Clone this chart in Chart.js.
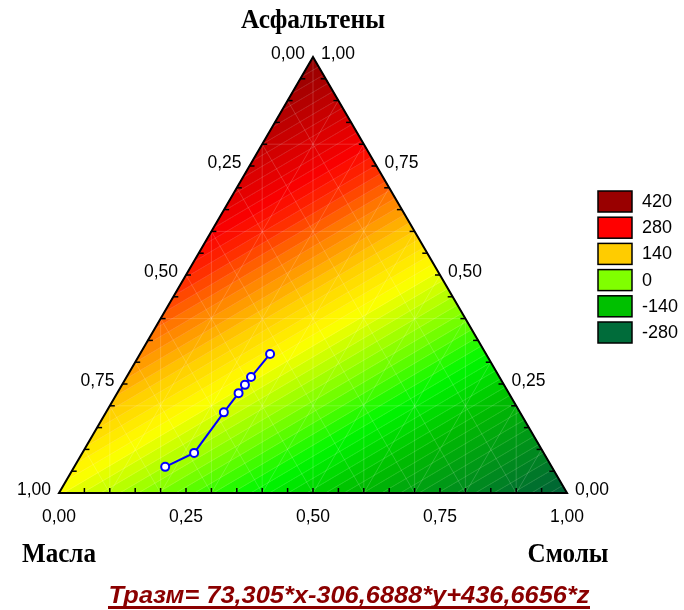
<!DOCTYPE html>
<html>
<head>
<meta charset="utf-8">
<script src="https://cdn.jsdelivr.net/npm/chart.js@4.4.0/dist/chart.umd.min.js"></script>
<style>
    html, body { margin: 0; background: #fff; }
    #contenedor { width: 684px; height: 610px; }
</style>
</head>
<body>
<div id="contenedor"><canvas id="grafico"></canvas></div>
<script>
// Доли компонентов в опытных точках (x - масла, y - смолы, z - асфальтены)
const masla = [0.761, 0.688, 0.583, 0.532, 0.510, 0.489, 0.425];
const smoly = [0.179, 0.220, 0.232, 0.239, 0.242, 0.245, 0.256];
const asfalteny = [0.060, 0.092, 0.185, 0.229, 0.248, 0.266, 0.319];

// Коэффициенты модели: Тразм = a*x + b*y + c*z
const koef = [73.305, -306.6888, 436.6656];
const formula = "Тразм= 73,305*x-306,6888*y+436,6656*z";

// Подписи
const nazvaniya = ["Масла", "Смолы", "Асфальтены"];
const tiki = [0, 0.25, 0.5, 0.75, 1];

// Легенда (уровни и их цвета)
const urovni = [420, 280, 140, 0, -140, -280];
const tsvetaUrovney = ["#990000", "#ff0000", "#ffcc00", "#80ff00", "#00c000", "#006c3a"];

// Шаг контуров
const shag = 14;
const baza = -280;

// Цветовая шкала для заливки
const shkala = [
    [-310, [0, 95, 55]],
    [-280, [0, 108, 48]],
    [-140, [0, 190, 0]],
    [-70, [0, 248, 0]],
    [0, [128, 255, 0]],
    [80, [255, 255, 0]],
    [140, [255, 204, 0]],
    [205, [255, 115, 0]],
    [250, [255, 40, 0]],
    [285, [250, 0, 0]],
    [350, [205, 0, 0]],
    [440, [140, 0, 0]],
];

function colorDe(t) {
    if (t <= shkala[0][0]) return "rgb(" + shkala[0][1].join(",") + ")";
    for (let i = 1; i < shkala.length; i++) {
        if (t <= shkala[i][0]) {
            const a = shkala[i - 1], b = shkala[i];
            const k = (t - a[0]) / (b[0] - a[0]);
            const c = a[1].map((v, j) => Math.round(v + k * (b[1][j] - v)));
            return "rgb(" + c.join(",") + ")";
        }
    }
    return "rgb(" + shkala[shkala.length - 1][1].join(",") + ")";
}

// Перевод тройных координат в плоские
function vPloskost(x, y, z) {
    return { x: y + z / 2, y: z };
}

function fmt(v) {
    return v.toFixed(2).replace(".", ",");
}

// Отсечение многоугольника по уровню
function otsech(poli, nivel, sverhu) {
    const res = [];
    for (let i = 0; i < poli.length; i++) {
        const a = poli[i], b = poli[(i + 1) % poli.length];
        const da = sverhu ? a.t - nivel : nivel - a.t;
        const db = sverhu ? b.t - nivel : nivel - b.t;
        if (da >= 0) res.push(a);
        if ((da >= 0) !== (db >= 0)) {
            const k = da / (da - db);
            res.push({ X: a.X + k * (b.X - a.X), Y: a.Y + k * (b.Y - a.Y), t: a.t + k * (b.t - a.t) });
        }
    }
    return res;
}

const puntos = masla.map((m, i) => vPloskost(m, smoly[i], asfalteny[i]));

const pluginTreugolnik = {
    id: "treugolnik",
    beforeDatasetsDraw(chart) {
        const ctx = chart.ctx;
        const sx = chart.scales.x, sy = chart.scales.y;
        const P = (X, Y) => [sx.getPixelForValue(X), sy.getPixelForValue(Y)];
        const T = (x, y, z) => { const p = vPloskost(x, y, z); return P(p.x, p.y); };
        const linea = (p, q) => { ctx.beginPath(); ctx.moveTo(p[0], p[1]); ctx.lineTo(q[0], q[1]); ctx.stroke(); };

        const vershiny = [
            { X: 0, Y: 0, t: koef[0] },
            { X: 1, Y: 0, t: koef[1] },
            { X: 0.5, Y: 1, t: koef[2] },
        ];
        const tMin = Math.min(...koef), tMax = Math.max(...koef);
        const k0 = Math.floor((tMin - baza) / shag), k1 = Math.ceil((tMax - baza) / shag);

        ctx.save();
        // Полосы заливки
        for (let k = k0; k < k1; k++) {
            const lo = baza + k * shag, hi = lo + shag;
            let poli = otsech(vershiny, lo, true);
            poli = otsech(poli, hi, false);
            if (poli.length < 3) continue;
            const col = colorDe((lo + hi) / 2);
            ctx.beginPath();
            poli.forEach((v, i) => {
                const p = P(v.X, v.Y);
                if (i === 0) ctx.moveTo(p[0], p[1]); else ctx.lineTo(p[0], p[1]);
            });
            ctx.closePath();
            ctx.fillStyle = col;
            ctx.strokeStyle = col;
            ctx.lineWidth = 1;
            ctx.fill();
            ctx.stroke();
        }

        // Обрезка по треугольнику для сетки
        const A = P(0, 0), B = P(1, 0), C = P(0.5, 1);
        ctx.beginPath();
        ctx.moveTo(A[0], A[1]); ctx.lineTo(B[0], B[1]); ctx.lineTo(C[0], C[1]); ctx.closePath();
        ctx.clip();

        ctx.lineWidth = 1;
        ctx.strokeStyle = "rgba(255,255,255,0.13)";
        // Линии контуров
        for (let k = k0; k <= k1; k++) {
            const nivel = baza + k * shag;
            const seg = otsech(otsech(vershiny, nivel - 1e-9, true), nivel + 1e-9, false);
            if (seg.length >= 2) linea(P(seg[0].X, seg[0].Y), P(seg[seg.length - 1].X, seg[seg.length - 1].Y));
        }
        // Сетка
        ctx.strokeStyle = "rgba(255,255,255,0.17)";
        for (let i = 1; i < 10; i++) {
            const v = i / 10;
            linea(T(v, 1 - v, 0), T(v, 0, 1 - v));
            linea(T(1 - v, v, 0), T(0, v, 1 - v));
            linea(P(v, 0), P(v, v <= 0.5 ? 2 * v : 2 * (1 - v)));
            if (i % 2 === 0) linea(T(1 - v, 0, v), T(0, 1 - v, v));
        }
        ctx.restore();

        // Контур треугольника и риски
        ctx.save();
        ctx.strokeStyle = "#000";
        ctx.lineWidth = 1.5;
        for (let i = 1; i < 20; i++) {
            const v = i / 20;
            let p = P(v, 0); linea(p, [p[0], p[1] - 5]);
            p = P(v / 2, v); linea(p, [p[0] + 5, p[1]]);
            p = P(1 - v / 2, v); linea(p, [p[0] - 5, p[1]]);
        }
        ctx.lineWidth = 2;
        ctx.lineJoin = "miter";
        ctx.beginPath();
        ctx.moveTo(A[0], A[1]); ctx.lineTo(B[0], B[1]); ctx.lineTo(C[0], C[1]); ctx.closePath();
        ctx.stroke();
        ctx.restore();
    },
    afterDraw(chart) {
        const ctx = chart.ctx;
        const sx = chart.scales.x, sy = chart.scales.y;
        const P = (X, Y) => [sx.getPixelForValue(X), sy.getPixelForValue(Y)];
        ctx.save();
        ctx.fillStyle = "#000";
        ctx.font = "17.5px 'Liberation Sans', Arial, sans-serif";
        ctx.textBaseline = "middle";
        tiki.forEach(v => {
            // Смолы - нижняя сторона
            let p = P(v, 0);
            ctx.textAlign = "center";
            ctx.fillText(fmt(v), p[0], p[1] + 24);
            // Масла - левая сторона
            p = P((1 - v) / 2, 1 - v);
            ctx.textAlign = "right";
            ctx.fillText(fmt(v), p[0] - 8, p[1] - 3);
            // Асфальтены - правая сторона
            p = P(1 - v / 2, v);
            ctx.textAlign = "left";
            ctx.fillText(fmt(v), p[0] + 8, p[1] - 3);
        });

        // Названия вершин
        const titulo = (txt, x, y, ancho) => {
            ctx.save();
            ctx.font = "bold 27px 'Liberation Serif', 'Times New Roman', serif";
            const w = ctx.measureText(txt).width;
            ctx.translate(x, y);
            ctx.scale(ancho / w, 1);
            ctx.textAlign = "center";
            ctx.textBaseline = "alphabetic";
            ctx.fillText(txt, 0, 0);
            ctx.restore();
        };
        const A = P(0, 0), B = P(1, 0), C = P(0.5, 1);
        titulo(nazvaniya[2], C[0], C[1] - 29, 144);
        titulo(nazvaniya[0], A[0], A[1] + 69, 74);
        titulo(nazvaniya[1], B[0] + 1, B[1] + 69, 81);

        // Легенда
        ctx.font = "18px 'Liberation Sans', Arial, sans-serif";
        ctx.textAlign = "left";
        ctx.textBaseline = "middle";
        urovni.forEach((u, i) => {
            const y = 191 + i * 26.2;
            ctx.fillStyle = tsvetaUrovney[i];
            ctx.fillRect(598, y, 34, 21);
            ctx.strokeStyle = "#000";
            ctx.lineWidth = 1.5;
            ctx.strokeRect(598, y, 34, 21);
            ctx.fillStyle = "#000";
            ctx.fillText(String(u), 642, y + 11);
        });

        // Уравнение
        ctx.save();
        ctx.fillStyle = "#8b0000";
        ctx.font = "italic bold 23px 'Liberation Sans', Arial, sans-serif";
        const w = ctx.measureText(formula).width;
        const cx = 349;
        ctx.translate(cx, 603);
        ctx.scale(481 / w, 1);
        ctx.textAlign = "center";
        ctx.textBaseline = "alphabetic";
        ctx.fillText(formula, 0, 0);
        ctx.restore();
        ctx.fillStyle = "#8b0000";
        ctx.fillRect(cx - 241, 606, 482, 3);
        ctx.restore();
    }
};

new Chart(document.getElementById("grafico"), {
    type: "scatter",
    data: {
        datasets: [{
            label: "Тразм",
            data: puntos,
            showLine: true,
            borderColor: "#0000ff",
            borderWidth: 2,
            pointBackgroundColor: "#ffffff",
            pointBorderColor: "#0000ff",
            pointBorderWidth: 2,
            pointRadius: 4,
            tension: 0,
        }],
    },
    options: {
        responsive: true,
        maintainAspectRatio: false,
        animation: false,
        layout: { padding: { left: 59, top: 57, right: 117, bottom: 117 } },
        scales: {
            x: { type: "linear", min: 0, max: 1, display: false },
            y: { type: "linear", min: 0, max: 1, display: false },
        },
        plugins: {
            legend: { display: false },
            tooltip: { enabled: false },
        },
    },
    plugins: [pluginTreugolnik],
});
</script>
</body>
</html>
